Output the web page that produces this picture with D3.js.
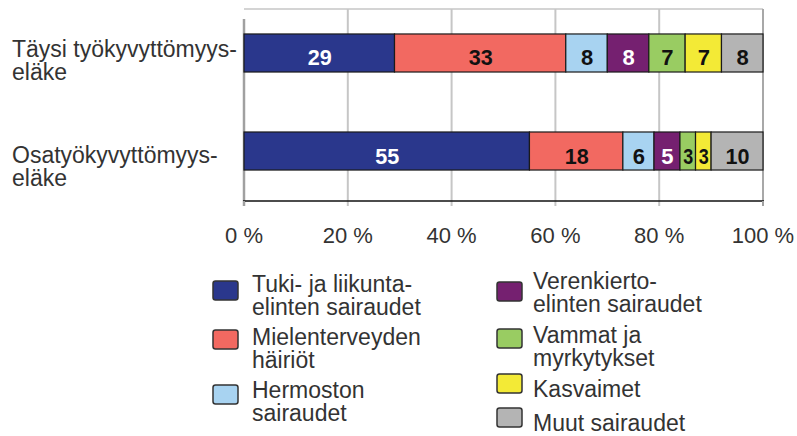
<!DOCTYPE html>
<html>
<head>
<meta charset="utf-8">
<script src="https://cdn.jsdelivr.net/npm/d3@7"></script>
<style>
  html, body { margin: 0; padding: 0; background: #fff; }
  svg { display: block; }
  text { font-family: "Liberation Sans", Arial, Helvetica, sans-serif; }
</style>
</head>
<body>
<svg id="chart" width="797" height="436"></svg>
<script>
// ---- data ----
const categories = [
  ["Täysi työkyvyttömyys-", "eläke"],
  ["Osatyökyvyttömyys-", "eläke"]
];
const seriesNames = [
  ["Tuki- ja liikunta-", "elinten sairaudet"],
  ["Mielenterveyden", "häiriöt"],
  ["Hermoston", "sairaudet"],
  ["Verenkierto-", "elinten sairaudet"],
  ["Vammat ja", "myrkytykset"],
  ["Kasvaimet"],
  ["Muut sairaudet"]
];
const valuesTaysi = [29, 33, 8, 8, 7, 7, 8];
const valuesOsa   = [55, 18, 6, 5, 3, 3, 10];
const tickValues = [0, 20, 40, 60, 80, 100];
const tickLabels = ["0 %", "20 %", "40 %", "60 %", "80 %", "100 %"];

const colors = ["#2a378c", "#f26961", "#a8d3f1", "#752070", "#99cc62", "#f3ea36", "#b4b4b4"];
const labelColors = ["#fff", "#111", "#111", "#fff", "#111", "#111", "#111"];

// ---- build ----
const svg = d3.select("#chart");
const rows = [valuesTaysi, valuesOsa];
const catKeys = categories.map(c => c.join(""));

const x = d3.scaleLinear().domain([0, 100]).range([244, 763]);
const y = d3.scaleBand().domain(catKeys).range([3, 201])
  .paddingInner(0.612).paddingOuter(0.316);

const plotTop = 9, plotBottom = 201;

// grid lines
svg.append("g").selectAll("line")
  .data(tickValues.slice(1, -1))
  .join("line")
  .attr("x1", d => x(d)).attr("x2", d => x(d))
  .attr("y1", plotTop).attr("y2", plotBottom + 5)
  .attr("stroke", "#c6c6c6").attr("stroke-width", 2);

// top border
svg.append("line")
  .attr("x1", x(0)).attr("x2", x(100))
  .attr("y1", plotTop).attr("y2", plotTop)
  .attr("stroke", "#c6c6c6").attr("stroke-width", 1.5);

// right border
svg.append("line")
  .attr("x1", x(100)).attr("x2", x(100))
  .attr("y1", plotTop).attr("y2", plotBottom + 5)
  .attr("stroke", "#a8a8a8").attr("stroke-width", 2);

// left axis
svg.append("line")
  .attr("x1", x(0)).attr("x2", x(0))
  .attr("y1", plotTop + 10).attr("y2", plotBottom + 5)
  .attr("stroke", "#a0a0a0").attr("stroke-width", 2.5);

// bars
rows.forEach((vals, ri) => {
  let acc = 0;
  const segs = vals.map((v, i) => { const s = { x0: acc, x1: acc + v, v, i }; acc += v; return s; });
  const g = svg.append("g");
  const y0 = y(catKeys[ri]), bh = y.bandwidth();
  g.selectAll("rect").data(segs).join("rect")
    .attr("x", d => x(d.x0)).attr("width", d => x(d.x1) - x(d.x0))
    .attr("y", y0).attr("height", bh)
    .attr("fill", d => colors[d.i])
    .attr("stroke", "#1a1a1a").attr("stroke-width", 1.2);
  g.selectAll("text").data(segs).join("text")
    .attr("x", d => (x(d.x0) + x(d.x1)) / 2 + 0.5)
    .attr("y", y0 + bh / 2 + 12.5)
    .attr("text-anchor", "middle")
    .attr("font-size", 22).attr("font-weight", "bold")
    .attr("fill", d => labelColors[d.i])
    .attr("textLength", d => d.v < 4 ? 10 : (d.v >= 10 ? 24 : null))
    .attr("lengthAdjust", "spacingAndGlyphs")
    .text(d => d.v);
});

// bottom axis line
svg.append("line")
  .attr("x1", x(0) - 1).attr("x2", x(100) + 1)
  .attr("y1", plotBottom).attr("y2", plotBottom)
  .attr("stroke", "#111").attr("stroke-width", 1.5);

// ticks
svg.append("g").selectAll("line")
  .data([0, 100]).join("line")
  .attr("x1", d => x(d)).attr("x2", d => x(d))
  .attr("y1", plotBottom).attr("y2", plotBottom + 5)
  .attr("stroke", "#a0a0a0").attr("stroke-width", 2);

// tick labels
svg.append("g").selectAll("text")
  .data(tickValues).join("text")
  .attr("x", d => x(d))
  .attr("y", 243)
  .attr("text-anchor", "middle")
  .attr("font-size", 22)
  .attr("fill", "#333")
  .text((d, i) => tickLabels[i]);

// category labels
const catOffsets = [4, 12];
categories.forEach((lines, ri) => {
  const cy = y(catKeys[ri]) + y.bandwidth() / 2 + catOffsets[ri];
  const t = svg.append("text").attr("x", 12).attr("y", cy)
    .attr("font-size", 23).attr("fill", "#333");
  lines.forEach((ln, li) => {
    t.append("tspan").attr("x", 12).attr("dy", li === 0 ? 0 : 23).text(ln);
  });
});

// legend
const legendCols = [
  { sx: 213, tx: 252, items: [
    { i: 0, sy: 281, ty: 292 },
    { i: 1, sy: 330, ty: 345 },
    { i: 2, sy: 385, ty: 398 }
  ]},
  { sx: 497, tx: 533, items: [
    { i: 3, sy: 282, ty: 289 },
    { i: 4, sy: 329, ty: 343 },
    { i: 5, sy: 374, ty: 397 },
    { i: 6, sy: 408, ty: 431 }
  ]}
];
const lg = svg.append("g");
legendCols.forEach(col => {
  col.items.forEach(it => {
    lg.append("rect")
      .attr("x", col.sx).attr("y", it.sy)
      .attr("width", 25).attr("height", 19)
      .attr("rx", 2.5)
      .attr("fill", colors[it.i])
      .attr("stroke", "#333").attr("stroke-width", 1.5);
    const t = lg.append("text").attr("x", col.tx).attr("y", it.ty)
      .attr("font-size", 23).attr("fill", "#333");
    seriesNames[it.i].forEach((ln, li) => {
      t.append("tspan").attr("x", col.tx).attr("dy", li === 0 ? 0 : 23).text(ln);
    });
  });
});
</script>
</body>
</html>
